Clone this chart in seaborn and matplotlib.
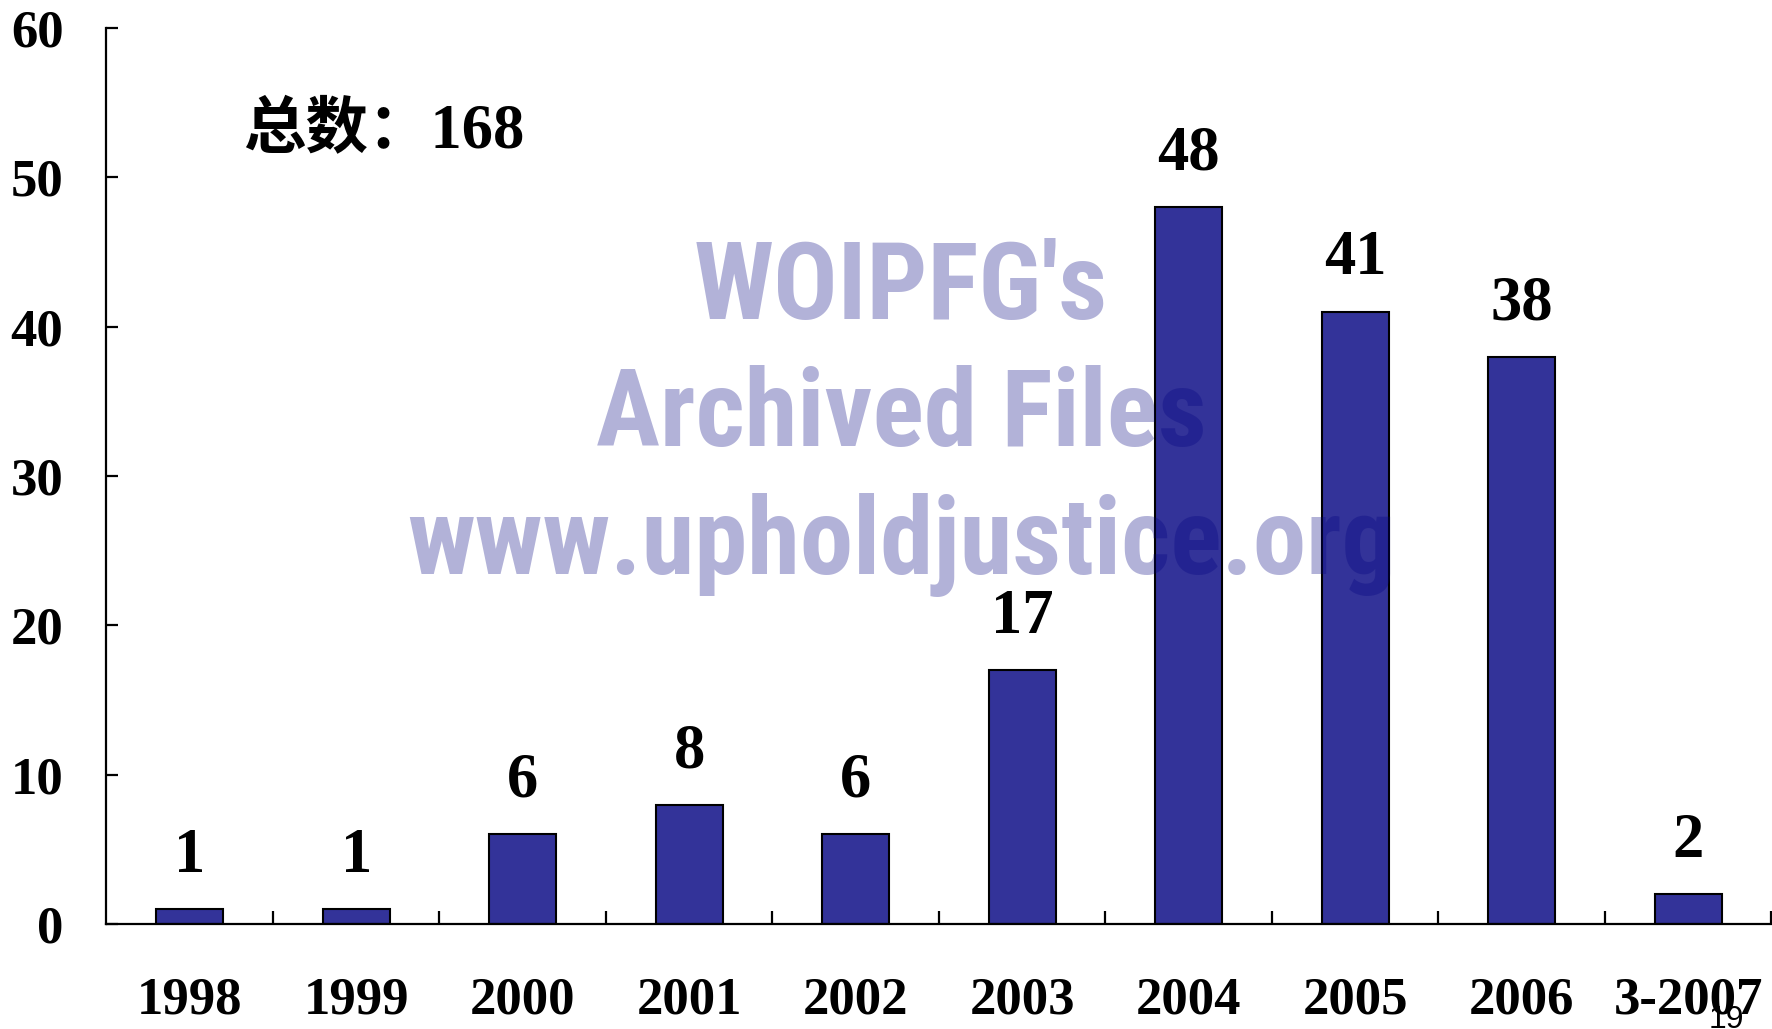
"""Yearly counts 1998 - 3/2007, bar chart with watermark."""
import matplotlib
matplotlib.use("Agg")
import matplotlib.pyplot as plt
import seaborn as sns
import pandas as pd
from matplotlib.ticker import FixedLocator

years  = ["1998", "1999", "2000", "2001", "2002", "2003", "2004", "2005", "2006", "3-2007"]
counts = [1, 1, 6, 8, 6, 17, 48, 41, 38, 2]
total_label = "总数：168"
watermark = ["WOIPFG's", "Archived Files", "www.upholdjustice.org"]
page_no = "19"

sns.set_style("white")
plt.rcParams["font.family"] = ["Liberation Serif", "Noto Sans CJK SC", "DejaVu Sans"]
plt.rcParams["font.weight"] = "bold"
plt.rcParams["text.color"] = "black"
plt.rcParams["xtick.color"] = "black"
plt.rcParams["ytick.color"] = "black"

df = pd.DataFrame({"year": years, "count": counts})

fig = plt.figure(figsize=(17.72, 10.29), dpi=100)
ax = fig.add_axes([0.0601, 0.1020, 0.9396, 0.8708])

sns.barplot(data=df, x="year", y="count", ax=ax, color="#333399",
            saturation=1, width=0.4, edgecolor="black", linewidth=1.5)

ax.set_xlim(-0.5, len(years) - 0.5)
ax.set_ylim(0, 60)
ax.set_yticks(range(0, 61, 10))
ax.set_xlabel("")
ax.set_ylabel("")

for s in ["top", "right"]:
    ax.spines[s].set_visible(False)
for s in ["left", "bottom"]:
    ax.spines[s].set_color("black")
    ax.spines[s].set_linewidth(1.6)

# category boundaries get the tick marks, labels sit at the centres
ax.xaxis.set_minor_locator(FixedLocator([i + 0.5 for i in range(len(years))]))
ax.tick_params(axis="x", which="major", bottom=True, length=0, pad=38,
               labelsize=38, labelcolor="black")
ax.tick_params(axis="x", which="minor", bottom=True, direction="in",
               length=9.5, width=1.6, color="black")
ax.tick_params(axis="y", left=True, direction="in", length=8.5, width=1.6,
               color="black", pad=31, labelsize=38, labelcolor="black")
for lab in ax.get_xticklabels() + ax.get_yticklabels():
    lab.set_fontweight("bold")

# value labels
for i, v in enumerate(counts):
    ax.annotate(str(v), (i, v), xytext=(0, 27), textcoords="offset points",
                ha="center", va="baseline", fontsize=45, fontweight="bold",
                color="black")

ax.text(0.32, 53, total_label, ha="left", va="center", fontsize=45,
        fontweight="bold", color="black")

# watermark
wm_y = [0.690, 0.5666, 0.442]
for txt, y in zip(watermark, wm_y):
    fig.text(0.5085, y, txt, ha="center", va="baseline", fontsize=77,
             fontweight="bold", color="#000080", alpha=0.3,
             family=["Roboto Condensed", "Liberation Sans Narrow",
                     "Open Sans Condensed", "Roboto"], zorder=10)

fig.text(0.9645, 0.0233, page_no, ha="left", va="top", fontsize=23,
         fontweight="normal", family=["Liberation Sans"], color="black")

fig.savefig("out.png", dpi=100)
print("Saved: out.png")
